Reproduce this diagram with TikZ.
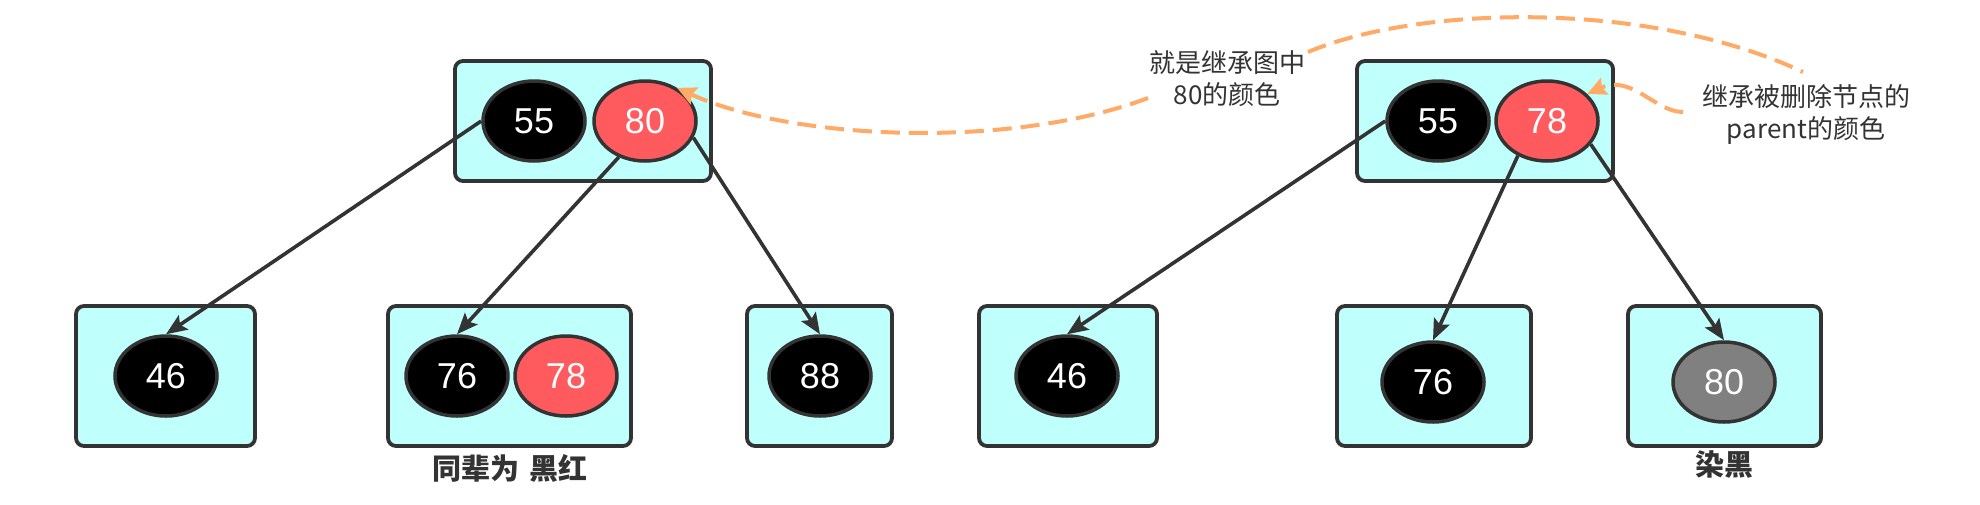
\documentclass[tikz,border=0pt]{standalone}
\usepackage{fontspec}
\setmainfont{Liberation Sans}
\newfontfamily\cjk{Noto Sans CJK SC}
\usetikzlibrary{shapes.geometric,arrows.meta}
\definecolor{boxfill}{HTML}{BFFFFC}
\definecolor{edgecol}{HTML}{333333}
\definecolor{rbred}{HTML}{FF5B5E}
\definecolor{graynode}{HTML}{808080}
\definecolor{annocol}{HTML}{FFAA66}
\definecolor{txtcol}{HTML}{333333}
\begin{document}
\begin{tikzpicture}[x=1pt,y=-1pt,
  box/.style={rectangle, draw=edgecol, line width=3.8pt, fill=boxfill, rounded corners=8pt, inner sep=0pt, minimum height=140pt},
  topbox/.style={box, minimum width=256pt, minimum height=120pt},
  rb/.style={ellipse, draw=edgecol, line width=3.5pt, minimum width=102pt, minimum height=80pt, inner sep=0pt, text=white, font=\fontsize{36}{40}\selectfont},
  blacknode/.style={rb, fill=black},
  rednode/.style={rb, fill=rbred},
  graynd/.style={rb, fill=graynode},
  link/.style={draw=edgecol, line width=3.6pt, -{Stealth[length=21pt,width=17pt,inset=4pt]}},
  annoline/.style={draw=annocol, line width=4pt, dash pattern=on 19pt off 9pt},
  annoarrow/.style={annoline, -{Stealth[length=19pt,width=18pt,inset=3pt]}},
  annotext/.style={align=center, text=txtcol, font=\cjk\fontsize{26}{32}\selectfont, inner sep=0pt},
  caption/.style={text=txtcol, font=\cjk\bfseries\fontsize{29}{32}\selectfont, inner sep=0pt}
]
\useasboundingbox (0,0) rectangle (1980,504);

% boxes
\node[topbox] (bTL) at (583,121) {};
\node[topbox] (bTR) at (1485,121) {};
\node[box, minimum width=179pt] (b1) at (165.5,376) {};
\node[box, minimum width=243pt] (b2) at (509.5,376) {};
\node[box, minimum width=145pt] (b3) at (819.5,376) {};
\node[box, minimum width=178pt] (b4) at (1068,376) {};
\node[box, minimum width=194pt] (b5) at (1434,376) {};
\node[box, minimum width=193pt] (b6) at (1724.5,376) {};

% tree nodes
\node[blacknode] (tl55) at (534,121) {55};
\node[rednode] (tl80) at (645,121) {80};
\node[blacknode] (tr55) at (1438,121) {55};
\node[rednode] (tr78) at (1547,121) {78};

\node[blacknode] (a46) at (166,376) {46};
\node[blacknode] (a76) at (457,376) {76};
\node[rednode] (a78) at (566,376) {78};
\node[blacknode] (a88) at (820,376) {88};

\node[blacknode] (c46) at (1067,376) {46};
\node[blacknode] (c76) at (1433,382) {76};
\node[graynd] (c80) at (1724,382) {80};

% captions
\node[caption] (cap1) at (510,468) {同辈为\hspace{3pt} 黑红};
\node[caption] (cap2) at (1724,465) {染黑};

% edges
\draw[link] (tl55.west) -- (a46.north);
\draw[link] (tl80.234) -- (a76.north);
\draw[link] (tl80.-19) -- (a88.north);
\draw[link] (tr55.west) -- (c46.north);
\draw[link] (tr78.230) -- (c76.north);
\draw[link] (tr78.-28) -- (c80.north);

% annotations
\node[annotext] (t1) at (1227,79) {就是继承图中\\80的颜色};
\node[annotext] (t2) at (1806,114) {继承被删除节点的\\parent的颜色};

\coordinate (s1) at (1148,98);
\coordinate (s2) at (1308,52);
\coordinate (e2) at (1803,72);
\coordinate (s3) at (1683,112);

\draw[annoarrow] (s1) .. controls (1010,150) and (790,140) .. (tl80.46);
\draw[annoline] (s2) .. controls (1420,5) and (1650,0) .. (e2);
\draw[annoarrow] (s3) .. controls (1655,112) and (1632,74) .. (tr78.34);
\end{tikzpicture}
\end{document}
